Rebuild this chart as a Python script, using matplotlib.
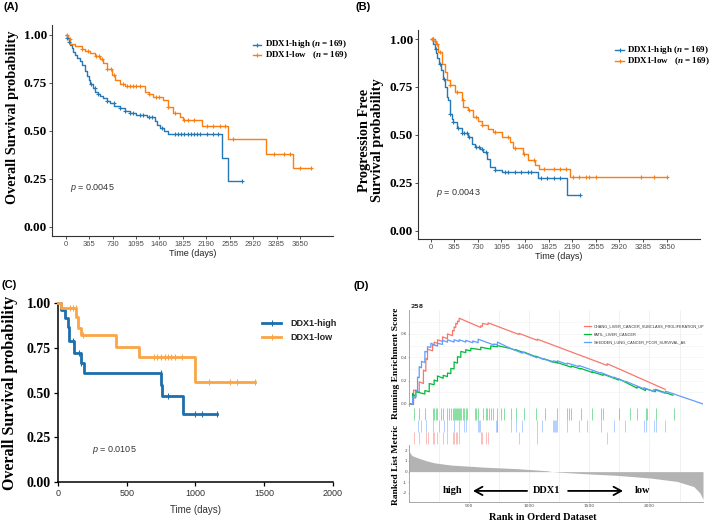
import matplotlib
matplotlib.use("Agg")
import matplotlib.pyplot as plt
from matplotlib.lines import Line2D
import numpy as np

plt.rcParams['mathtext.fontset'] = 'custom'
plt.rcParams['mathtext.it'] = 'Liberation Serif:italic:bold'
plt.rcParams['mathtext.sf'] = 'Liberation Sans:italic'
plt.rcParams['mathtext.rm'] = 'Liberation Serif:bold'

W, H = 709, 523
SERIF = 'Liberation Serif'
SANS = 'Liberation Sans'

# ---------------- data ----------------
# Panel A: overall survival (TCGA)
a_high_t = [0, 20, 45, 70, 93, 120, 150, 180, 223, 260, 301, 330, 360, 380, 420, 457, 500, 540, 587, 640,
            690, 760, 846, 920, 1000, 1100, 1262, 1391, 1430, 1469, 1530, 1598, 2429, 2522]
a_high_s = [1, 0.98, 0.96, 0.945, 0.93, 0.91, 0.895, 0.88, 0.865, 0.84, 0.81, 0.785, 0.765, 0.745, 0.72, 0.70,
            0.69, 0.68, 0.67, 0.655, 0.645, 0.63, 0.62, 0.605, 0.59, 0.58, 0.57, 0.55, 0.53, 0.515, 0.50, 0.485,
            0.36, 0.24]
a_high_end = 2751
a_high_cens = [20, 50, 400, 450, 500, 650, 750, 850, 920, 1000, 1050, 1150, 1200, 1300, 1350, 1500, 1700,
               1750, 1800, 1850, 1900, 1950, 2000, 2050, 2100, 2200, 2300, 2380, 2751]
a_low_t = [0, 30, 67, 150, 249, 300, 380, 450, 535, 580, 638, 716, 768, 850, 924, 1235, 1300, 1365, 1521,
           1598, 1676, 1780, 1832, 2117, 2522, 3114, 3535]
a_low_s = [1, 0.975, 0.95, 0.94, 0.925, 0.915, 0.905, 0.89, 0.875, 0.85, 0.82, 0.79, 0.765, 0.745, 0.73,
           0.70, 0.69, 0.675, 0.66, 0.625, 0.59, 0.57, 0.555, 0.525, 0.455, 0.38, 0.305]
a_low_end = 3815
a_low_cens = [20, 60, 250, 350, 480, 520, 560, 640, 700, 760, 900, 950, 1000, 1050, 1100, 1150, 1300, 1400,
              1450, 1600, 1700, 1850, 1900, 2000, 2200, 2300, 2400, 2480, 2600, 3250, 3400, 3500, 3650, 3815]

# Panel B: progression free survival
b_high_t = [0, 40, 67, 85, 103, 130, 160, 196, 222, 247, 270, 299, 325, 350, 402, 479, 582, 634, 685, 760,
            814, 866, 918, 995, 1098, 1665, 2113]
b_high_s = [1, 0.975, 0.95, 0.925, 0.90, 0.87, 0.84, 0.79, 0.75, 0.70, 0.68, 0.61, 0.585, 0.565, 0.535,
            0.51, 0.49, 0.455, 0.435, 0.425, 0.41, 0.375, 0.335, 0.315, 0.305, 0.273, 0.186]
b_high_end = 2309
b_high_cens = [30, 80, 150, 200, 300, 350, 420, 480, 520, 560, 600, 700, 750, 800, 850, 1000, 1150, 1200,
               1300, 1400, 1500, 1550, 1700, 1800, 1900, 2000, 2309]
b_low_t = [0, 60, 82, 120, 170, 222, 258, 299, 376, 479, 505, 582, 660, 737, 789, 892, 969, 1098, 1227,
           1278, 1433, 1510, 1613, 1680, 2155]
b_low_s = [1, 0.99, 0.975, 0.93, 0.87, 0.83, 0.786, 0.76, 0.725, 0.68, 0.645, 0.63, 0.595, 0.575, 0.55,
           0.53, 0.515, 0.49, 0.465, 0.43, 0.40, 0.37, 0.345, 0.32, 0.28]
b_low_end = 3650
b_low_cens = [20, 40, 60, 100, 150, 300, 400, 500, 600, 700, 800, 1000, 1200, 1300, 1450, 1600, 1750, 1900,
              2000, 2100, 2200, 2300, 2400, 2450, 2550, 3250, 3450, 3650]

# Panel C: overall survival (validation cohort)
c_high_t = [0, 25, 50, 70, 80, 114, 170, 187, 753, 758, 911]
c_high_s = [1, 0.96, 0.92, 0.87, 0.79, 0.72, 0.665, 0.61, 0.545, 0.48, 0.38]
c_high_end = 1159
c_high_cens = [110, 155, 170, 750, 800, 1000, 1050, 1159]
c_low_t = [0, 24, 134, 146, 170, 425, 590, 996]
c_low_s = [1, 0.972, 0.925, 0.86, 0.823, 0.757, 0.698, 0.558]
c_low_end = 1434
c_low_cens = [90, 110, 130, 180, 700, 720, 750, 780, 800, 820, 850, 900, 1100, 1250, 1300, 1434]

a_ticks_x = [0, 365, 730, 1095, 1460, 1825, 2190, 2555, 2920, 3285, 3650]
km_ticks_y = [0.0, 0.25, 0.50, 0.75, 1.00]
km_ticklabels_y = ['0.00', '0.25', '0.50', '0.75', '1.00']
c_ticks_x = [0, 500, 1000, 1500, 2000]

# Panel D: GSEA
gs_names = ['CHANG_LIVER_CANCER_SUBCLASS_PROLIFERATION_UP', 'PATIL_LIVER_CANCER',
            'SHEDDEN_LUNG_CANCER_POOR_SURVIVAL_A6']
red_rank = [0, 38, 38, 85, 85, 120, 120, 140, 140, 154, 154, 196, 196, 209, 209, 237, 237, 279, 279, 320, 320,
            362, 362, 375, 375, 389, 389, 403, 403, 417, 417, 597, 597, 611, 611, 658, 658, 915, 915, 1067,
            1067, 1648, 1648, 2130]
red_es = [0, -0.005, 0.12, 0.10, 0.19, 0.175, 0.29, 0.28, 0.39, 0.38, 0.47, 0.455, 0.51, 0.50, 0.53, 0.52,
          0.55, 0.535, 0.575, 0.56, 0.60, 0.585, 0.63, 0.625, 0.66, 0.655, 0.69, 0.685, 0.71, 0.705, 0.735,
          0.655, 0.67, 0.665, 0.69, 0.68, 0.695, 0.595, 0.605, 0.545, 0.555, 0.33, 0.345, 0.125]
green_rank = [0, 30, 30, 57, 57, 132, 132, 168, 168, 209, 209, 237, 237, 284, 284, 320, 320, 348, 348, 375,
              375, 403, 403, 431, 431, 472, 472, 514, 514, 597, 597, 680, 680, 735, 735, 846, 887, 887, 956,
              956, 1053, 1053, 1128, 1128, 1233, 1233, 1349, 1349, 1427, 1427, 1524, 1524, 1615, 1615, 1745,
              1745, 1897, 1897, 1967, 1967, 2050, 2050, 2196]
green_es = [0, 0, 0.09, 0.06, 0.105, 0.085, 0.115, 0.105, 0.175, 0.165, 0.205, 0.195, 0.24, 0.22, 0.245,
            0.235, 0.265, 0.26, 0.305, 0.30, 0.36, 0.35, 0.405, 0.40, 0.45, 0.44, 0.465, 0.455, 0.477, 0.465,
            0.486, 0.47, 0.497, 0.49, 0.50, 0.475, 0.46, 0.465, 0.44, 0.445, 0.405, 0.41, 0.38, 0.385, 0.35,
            0.355, 0.315, 0.325, 0.30, 0.305, 0.27, 0.275, 0.245, 0.255, 0.205, 0.215, 0.135, 0.15, 0.115,
            0.13, 0.105, 0.125, 0.075]
blue_rank = [0, 30, 30, 55, 55, 71, 71, 85, 85, 104, 104, 132, 132, 154, 154, 182, 182, 237, 237, 278, 278,
             320, 320, 375, 375, 417, 417, 472, 472, 530, 530, 575, 575, 707, 707, 735, 735, 846, 943, 943,
             1067, 1067, 1109, 1109, 1200, 1200, 1233, 1233, 1316, 1316, 1413, 1413, 1482, 1593, 1593, 1704,
             1704, 1800, 1800, 1953, 1953, 2036, 2036, 2133, 2133, 2445]
blue_es = [0, 0, 0.06, 0.05, 0.12, 0.11, 0.23, 0.225, 0.32, 0.31, 0.365, 0.355, 0.45, 0.445, 0.49, 0.485,
           0.52, 0.495, 0.52, 0.51, 0.545, 0.53, 0.55, 0.53, 0.55, 0.535, 0.55, 0.53, 0.545, 0.525, 0.54,
           0.525, 0.555, 0.505, 0.515, 0.505, 0.53, 0.475, 0.435, 0.445, 0.395, 0.405, 0.385, 0.39, 0.355,
           0.37, 0.36, 0.37, 0.34, 0.35, 0.32, 0.33, 0.305, 0.265, 0.27, 0.225, 0.23, 0.19, 0.195, 0.13,
           0.14, 0.105, 0.125, 0.09, 0.11, 0.0]
green_hits = [43, 85, 132, 196, 204, 223, 237, 270, 284, 320, 334, 348, 362, 375, 381, 389, 398, 409, 417,
              425, 436, 445, 458, 472, 486, 547, 558, 575, 619, 638, 652, 666, 680, 702, 735, 763, 790, 846,
              887, 956, 1053, 1128, 1233, 1316, 1330, 1349, 1427, 1524, 1598, 1615, 1745, 1842, 1897, 1967,
              1981, 2050, 2202]
blue_hits = [71, 99, 140, 196, 251, 292, 320, 375, 417, 458, 472, 575, 583, 591, 721, 730, 735, 846, 887,
             943, 1067, 1109, 1200, 1206, 1214, 1219, 1233, 1316, 1413, 1482, 1593, 1704, 1800, 1953, 1967,
             2036, 2050, 2133]
red_hits = [38, 85, 140, 154, 196, 209, 237, 279, 320, 362, 375, 389, 403, 417, 597, 611, 638, 658, 915,
            1067, 1648]
metric_rank = [0, 25, 71, 150, 210, 348, 624, 901, 1150, 1190, 1250, 1455, 1731, 2008, 2230, 2368, 2420, 2445]
metric_val = [1.9, 1.5, 1.3, 1.0, 0.83, 0.62, 0.42, 0.28, 0.08, 0.0, -0.05, -0.19, -0.35, -0.6, -0.92, -1.4,
              -2.0, -2.6]

BLUE = '#2378b5'
ORANGE = '#fb7e12'
C_BLUE = '#1c6ead'
C_ORANGE = '#fba544'
G_RED = '#F8766D'
G_GREEN = '#00BA38'
G_BLUE = '#619CFF'

fig = plt.figure(figsize=(W / 100, H / 100), dpi=100)


def px_axes(l, t, r, b):
    return fig.add_axes([l / W, 1 - b / H, (r - l) / W, (b - t) / H])


def fx(x):
    return x / W


def fy(y):
    return 1 - y / H


def km(ax, t, s, end, cens, color, lw, marker, ms):
    tt = list(t) + [end]
    ss = list(s) + [s[-1]]
    ax.step(tt, ss, where='post', color=color, lw=lw, clip_on=False, zorder=3)
    cy = [s[np.searchsorted(t, c, side='right') - 1] for c in cens]
    ax.plot(cens, cy, ls='none', marker=marker, color=color, ms=ms, mew=0.8, clip_on=False, zorder=4)


def style_km_ab(ax):
    for sp in ['top', 'right']:
        ax.spines[sp].set_visible(False)
    for sp in ['left', 'bottom']:
        ax.spines[sp].set_color('#333333')
        ax.spines[sp].set_linewidth(0.8)
    ax.set_xticks(a_ticks_x)
    ax.set_xticklabels([str(v) for v in a_ticks_x], fontfamily=SANS, fontsize=5.5, color='#4d4d4d')
    ax.set_yticks(km_ticks_y)
    ax.set_yticklabels(km_ticklabels_y, fontfamily=SERIF, fontweight='bold', fontsize=9.5, color='black')
    ax.tick_params(length=2, width=0.6, color='#333333', pad=1.5)
    ax.set_xlabel('Time (days)', fontfamily=SANS, fontsize=6.5, color='#222222', labelpad=0.5)


# ---------- Panel A ----------
axA = px_axes(52, 25, 333, 236)
km(axA, a_high_t, a_high_s, a_high_end, a_high_cens, BLUE, 1.0, '+', 3.5)
km(axA, a_low_t, a_low_s, a_low_end, a_low_cens, ORANGE, 1.0, '+', 3.5)
axA.set_xlim(-213, 4164)
axA.set_ylim(-0.048, 1.05)
style_km_ab(axA)
fig.text(fx(13), fy(117), 'Overall Survival probability', rotation=90, fontfamily=SERIF, fontweight='bold',
         fontsize=10.3, ha='center', va='center')
fig.text(fx(70), fy(188), r'$\mathsf{p}$ = 0.0045', fontfamily=SANS, fontsize=6.5, color='#333333',
         va='center', ha='left')

# ---------- Panel B ----------
axB = px_axes(418, 30, 700, 239)
km(axB, b_high_t, b_high_s, b_high_end, b_high_cens, BLUE, 1.0, '+', 3.5)
km(axB, b_low_t, b_low_s, b_low_end, b_low_cens, ORANGE, 1.0, '+', 3.5)
axB.set_xlim(-196, 4165)
axB.set_ylim(-0.043, 1.047)
style_km_ab(axB)
fig.text(fx(371), fy(140), 'Progression Free\nSurvival probability', rotation=90, fontfamily=SERIF,
         fontweight='bold', fontsize=10.3, ha='center', va='center', linespacing=1.05, multialignment='center')
fig.text(fx(436), fy(193), r'$\mathsf{p}$ = 0.0043', fontfamily=SANS, fontsize=6.5, color='#333333',
         va='center', ha='left')


def legend_ab(x_line, x_text, ys):
    labels = [r'DDX1-high ($\mathit{n}$ = 169)', r'DDX1-low   ($\mathit{n}$ = 169)']
    for y, col, lab in zip(ys, [BLUE, ORANGE], labels):
        fig.add_artist(Line2D([fx(x_line[0]), fx(x_line[1])], [fy(y), fy(y)], color=col, lw=1.0,
                              transform=fig.transFigure))
        fig.add_artist(Line2D([fx((x_line[0] + x_line[1]) / 2)], [fy(y)], color=col, marker='+', ms=3,
                              mew=0.8, transform=fig.transFigure))
        fig.text(fx(x_text), fy(y), lab, fontfamily=SERIF, fontweight='bold', fontsize=6.5, va='center',
                 ha='left')


legend_ab((253, 261), 265, [44.5, 55])
legend_ab((615, 624), 627, [50, 61])

# ---------- Panel C ----------
axC = px_axes(58, 303.3, 332.7, 482)
km(axC, c_high_t, c_high_s, c_high_end, c_high_cens, C_BLUE, 2.0, '|', 4)
km(axC, c_low_t, c_low_s, c_low_end, c_low_cens, C_ORANGE, 2.0, '|', 4)
axC.set_xlim(0, 2000)
axC.set_ylim(0, 1)
for sp in ['top', 'right']:
    axC.spines[sp].set_visible(False)
for sp in ['left', 'bottom']:
    axC.spines[sp].set_color('black')
    axC.spines[sp].set_linewidth(1.1)
axC.set_xticks(c_ticks_x)
axC.set_xticklabels([str(v) for v in c_ticks_x], fontfamily=SANS, fontsize=6.5, color='#333333')
axC.set_yticks(km_ticks_y)
axC.set_yticklabels(km_ticklabels_y, fontfamily=SERIF, fontweight='bold', fontsize=10)
axC.tick_params(length=3, width=0.9, pad=2)
axC.set_xlabel('Time (days)', fontfamily=SANS, fontsize=7, color='#333333', labelpad=5)
fig.text(fx(10), fy(393), 'Overall Survival probability', rotation=90, fontfamily=SERIF, fontweight='bold',
         fontsize=11.5, ha='center', va='center')
fig.text(fx(92), fy(450), r'$\mathsf{p}$ = 0.0105', fontfamily=SANS, fontsize=6.5, color='#333333',
         va='center', ha='left')
for y, col, lab in zip([323, 337], [C_BLUE, C_ORANGE], ['DDX1-high', 'DDX1-low']):
    fig.add_artist(Line2D([fx(262), fx(281)], [fy(y), fy(y)], color=col, lw=2.0, transform=fig.transFigure))
    fig.add_artist(Line2D([fx(271.5)], [fy(y)], color=col, marker='|', ms=4, mew=0.8,
                          transform=fig.transFigure))
    fig.text(fx(290), fy(y), lab, fontfamily=SANS, fontweight='bold', fontsize=6.5, color='#222222',
             va='center', ha='left')

# ---------- Panel D ----------
XMAX = 2445
axE = px_axes(409, 310, 703, 407)
axH = px_axes(409, 407, 703, 445)
axM = px_axes(409, 445, 703, 502)
grid_x = np.arange(250, 2445, 250)
for ax in (axE, axH, axM):
    ax.set_xlim(0, XMAX)
    for gx in grid_x:
        ax.axvline(gx, color='#ebebeb', lw=0.5, zorder=0)
    for sp in ['top', 'right']:
        ax.spines[sp].set_visible(False)

axE.plot(red_rank, red_es, color=G_RED, lw=0.9)
axE.plot(green_rank, green_es, color=G_GREEN, lw=0.9)
axE.plot(blue_rank, blue_es, color=G_BLUE, lw=0.9)
axE.set_ylim(-0.026, 0.805)
axE.set_yticks([0.0, 0.2, 0.4, 0.6])
axE.set_yticklabels(['0.0', '0.2', '0.4', '0.6'], fontsize=3, color='#4d4d4d')
axE.set_xticks([])
axE.spines['bottom'].set_visible(False)
axE.spines['left'].set_color('#9a9a9a')
axE.spines['left'].set_linewidth(0.6)
axE.tick_params(length=0.8, width=0.4, pad=0.6, color='#9a9a9a')
for gy in [0.1, 0.2, 0.3, 0.4, 0.5, 0.6, 0.7]:
    axE.axhline(gy, color='#f2f2f2', lw=0.4, zorder=0)
axE.text(10, 0.815, '258', fontsize=4.5, fontweight='bold', color='#333333', va='bottom', ha='left',
         clip_on=False)

for y, col, lab in zip([326, 334, 342], [G_RED, G_GREEN, G_BLUE], gs_names):
    fig.add_artist(Line2D([fx(584), fx(591)], [fy(y), fy(y)], color=col, lw=0.9, transform=fig.transFigure))
    fig.text(fx(594), fy(y), lab, fontfamily=SANS, fontsize=2.75, color='#333333', va='center', ha='left')

axH.set_ylim(3, 0)
axH.vlines(green_hits, 0.1, 1.0, color=G_GREEN, lw=0.6, alpha=0.55)
axH.vlines(blue_hits, 1.0, 2.0, color=G_BLUE, lw=0.6, alpha=0.55)
axH.vlines(red_hits, 2.0, 2.95, color=G_RED, lw=0.6, alpha=0.55)
axH.set_xticks([])
axH.set_yticks([])
axH.spines['bottom'].set_visible(False)
axH.spines['left'].set_visible(False)

axM.fill_between(metric_rank, 0, metric_val, color='#b3b3b3', lw=0)
axM.set_ylim(-2.85, 2.5)
axM.set_yticks([2, 1, 0, -1, -2])
axM.set_yticklabels(['2', '1', '0', '-1', '-2'], fontsize=3, color='#4d4d4d')
axM.set_xticks([500, 1000, 1500, 2000])
axM.set_xticklabels(['500', '1000', '1500', '2000'], fontsize=3.2, color='#4d4d4d')
for sp in ['left', 'bottom']:
    axM.spines[sp].set_color('#9a9a9a')
    axM.spines[sp].set_linewidth(0.6)
axM.tick_params(length=0.8, width=0.4, pad=0.6, color='#9a9a9a')

axM.text(358, -1.81, 'high', fontfamily=SERIF, fontweight='bold', fontsize=7.5, ha='center', va='center')
axM.text(1148, -1.81, 'DDX1', fontfamily=SERIF, fontweight='bold', fontsize=7.5, ha='center', va='center')
axM.text(1938, -1.81, 'low', fontfamily=SERIF, fontweight='bold', fontsize=7.5, ha='center', va='center')
arrow_kw = dict(arrowstyle='->,head_length=0.55,head_width=0.3', lw=1.3, color='black', shrinkA=0, shrinkB=0)
axM.annotate('', xy=(532, -1.81), xytext=(982, -1.81), arrowprops=arrow_kw)
axM.annotate('', xy=(1780, -1.81), xytext=(1323, -1.81), arrowprops=arrow_kw)

fig.text(fx(396), fy(363), 'Running Enrichment Score', rotation=90, fontfamily=SERIF, fontweight='bold',
         fontsize=6.8, ha='center', va='center')
fig.text(fx(396), fy(465), 'Ranked List Metric', rotation=90, fontfamily=SERIF, fontweight='bold',
         fontsize=6.8, ha='center', va='center')
fig.text(fx(543), fy(518), 'Rank in Orderd Dataset', fontfamily=SERIF, fontweight='bold', fontsize=7.5,
         ha='center', va='center')

# panel labels
for x, y, lab in [(3, 7, '(A)'), (355, 7, '(B)'), (2, 285, '(C)'), (353, 286, '(D)')]:
    fig.text(fx(x), fy(y), lab, fontfamily=SANS, fontweight='bold', fontsize=8, ha='left', va='center')

fig.savefig('out.png', dpi=100)
